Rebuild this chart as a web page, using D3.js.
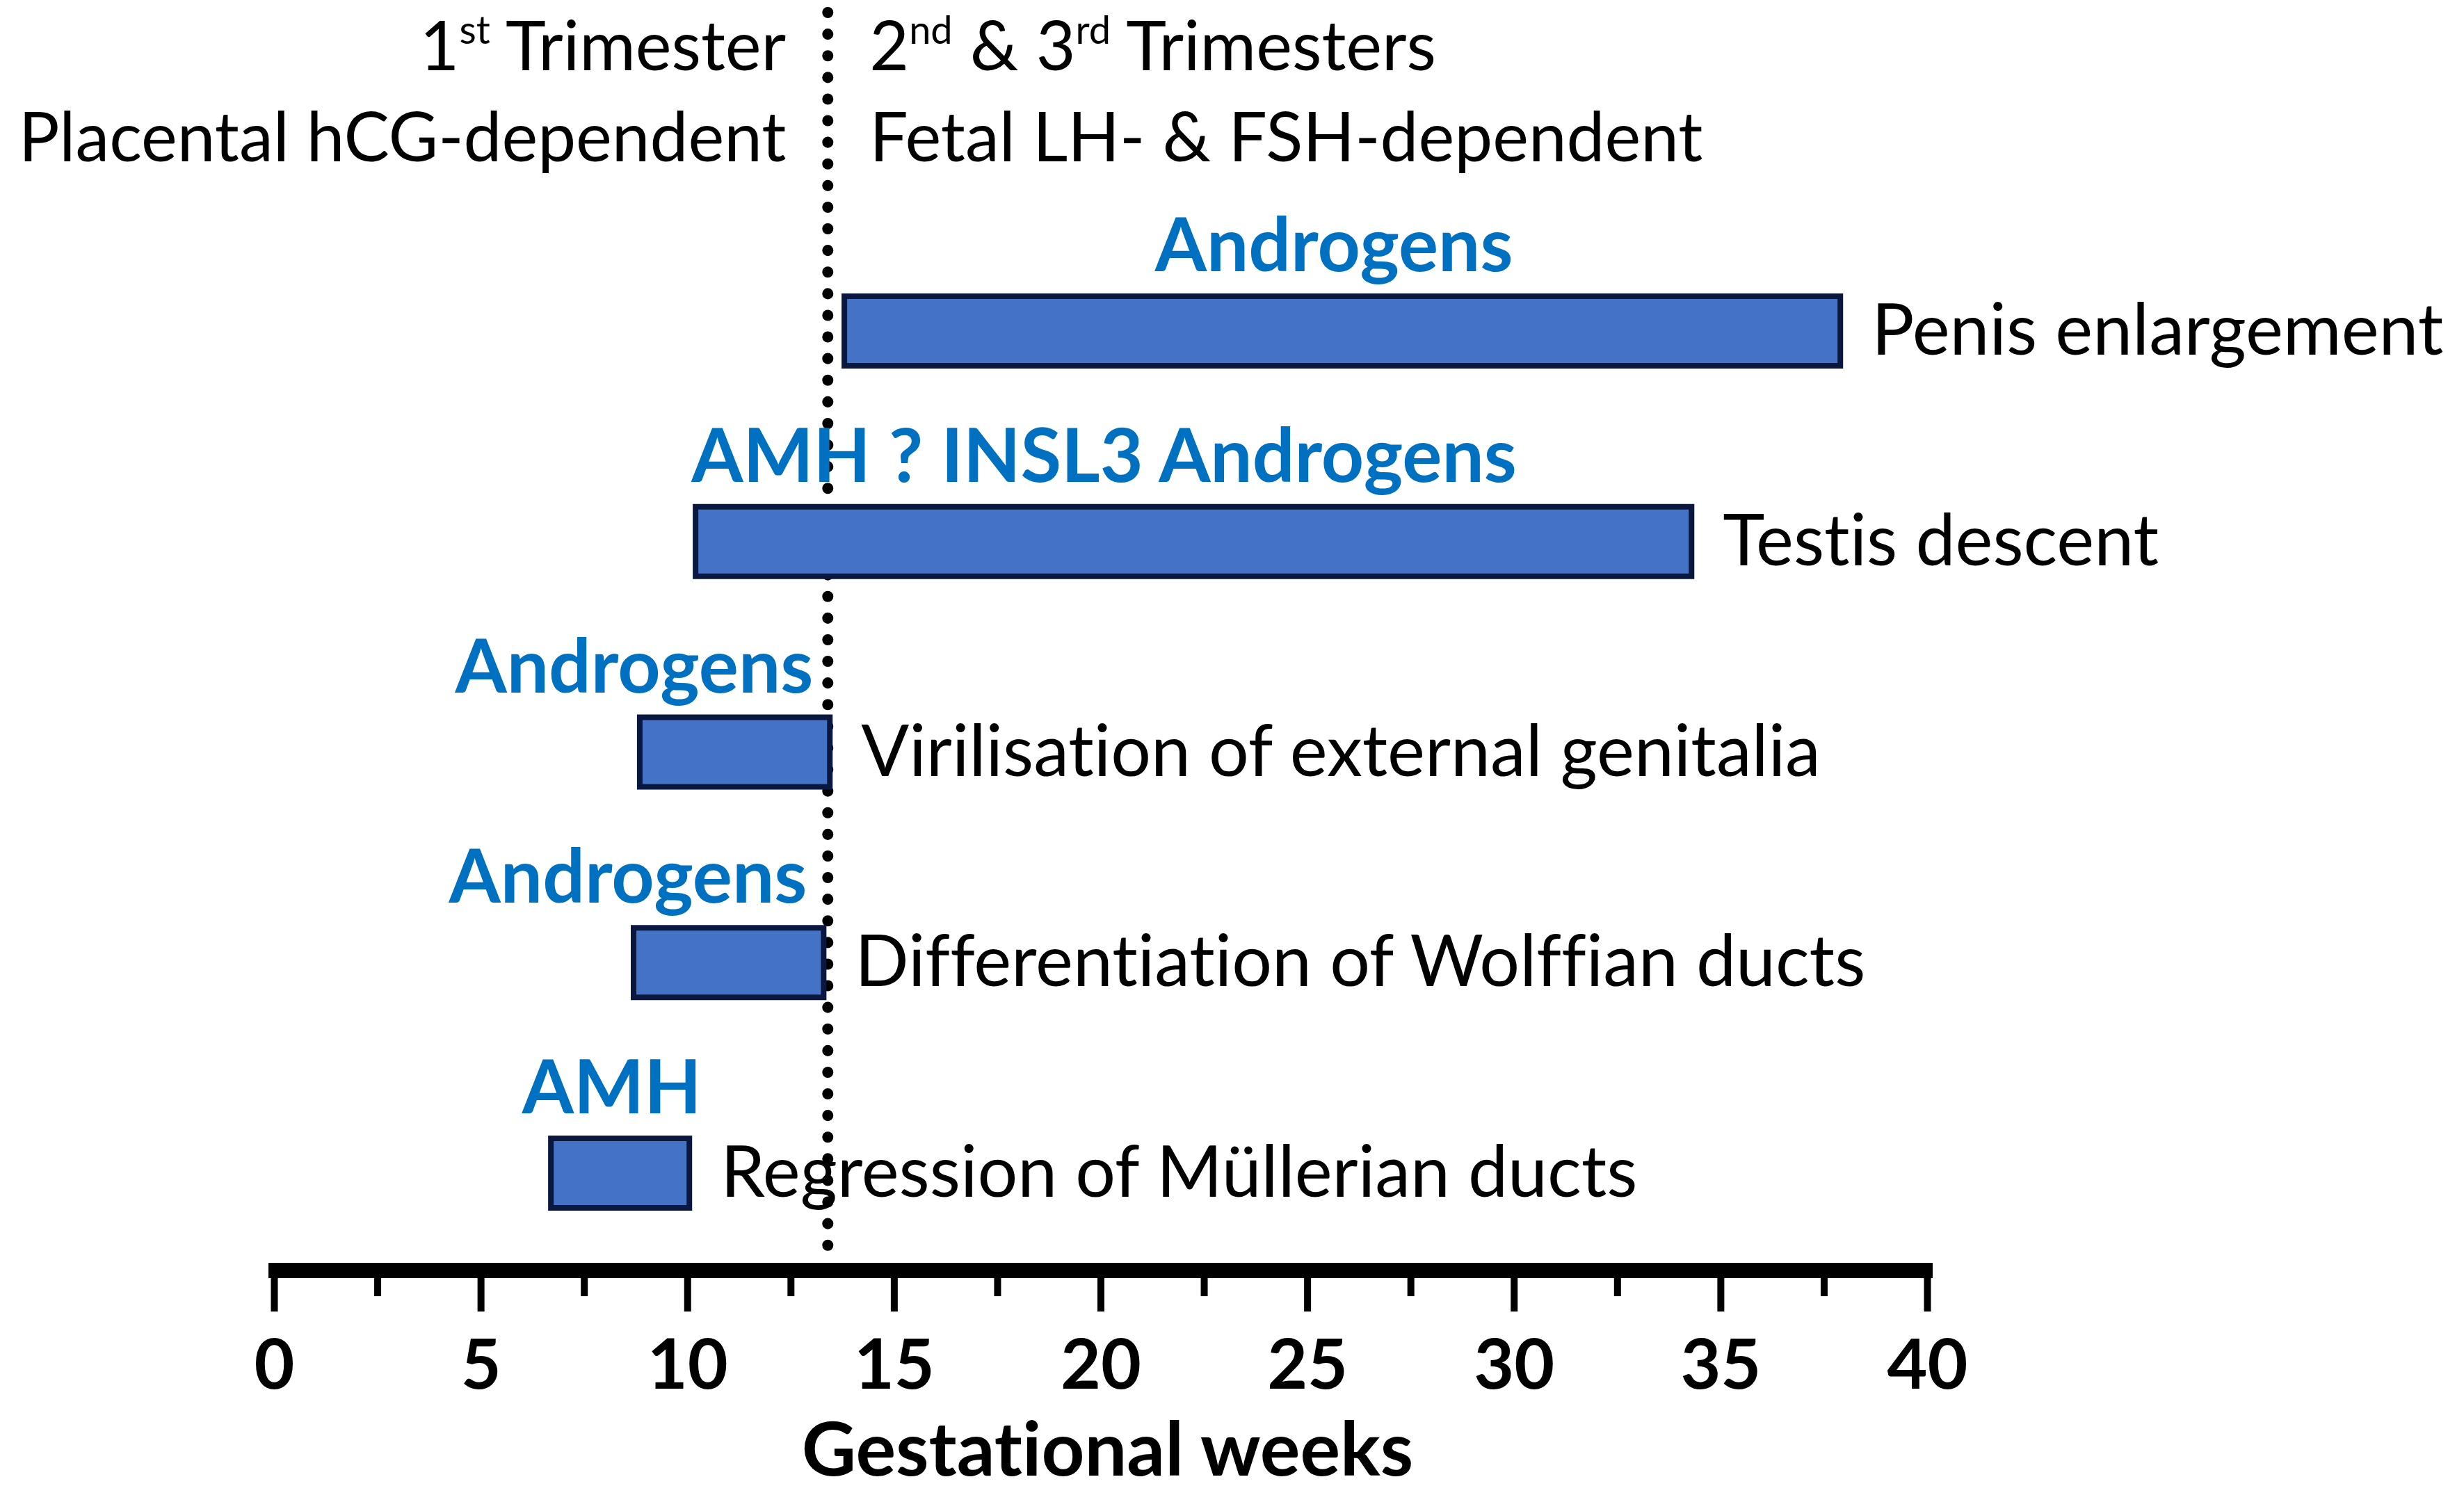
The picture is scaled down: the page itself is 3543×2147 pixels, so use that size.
<!DOCTYPE html>
<html>
<head>
<meta charset="utf-8">
<script src="https://cdn.jsdelivr.net/npm/d3@7"></script>
<style>
  body { margin: 0; background: #fff; }
  svg text { font-family: Lato, "Open Sans", sans-serif; font-variant-ligatures: none; }
</style>
</head>
<body>
<svg id="chart" width="3543" height="2147"></svg>
<script>
// processes, in order from top to bottom
var processes = ["Penis enlargement", "Testis descent", "Virilisation of external genitalia",
                 "Differentiation of Wolffian ducts", "Regression of Müllerian ducts"];
// gestational weeks where each process starts / ends
var startWeek = [13.8, 10.2, 8.85, 8.7, 6.7];
var endWeek   = [37.9, 34.3, 13.45, 13.3, 10.05];
// hormones driving each process
var hormones  = ["Androgens", "AMH ? INSL3 Androgens", "Androgens", "Androgens", "AMH"];
var hormoneAlign = ["middle", "start", "end", "end", "middle"];
// end of first trimester
var trimesterSplit = 13.4;
var majorTicks = [0, 5, 10, 15, 20, 25, 30, 35, 40];
var minorTicks = [2.5, 7.5, 12.5, 17.5, 22.5, 27.5, 32.5, 37.5];

var svg = d3.select("#chart");
var blue = "#0070c0";

var x = d3.scaleLinear().domain([0, 40]).range([394, 2771]);
var y = d3.scalePoint().domain(processes).range([476, 1687]);
var axisY = 1827;

var rows = processes.map(function(p, i) {
  return {name: p, start: startWeek[i], end: endWeek[i], hormone: hormones[i], align: hormoneAlign[i]};
});

// dotted trimester line
svg.append("line")
  .attr("x1", x(trimesterSplit)).attr("x2", x(trimesterSplit))
  .attr("y1", 18).attr("y2", axisY - 8)
  .attr("stroke", "#000").attr("stroke-width", 16)
  .attr("stroke-linecap", "round")
  .attr("stroke-dasharray", "0.1 31");

// header text either side of the line
var hdr = svg.append("g").attr("font-size", 98).attr("fill", "#000");
var t1 = hdr.append("text").attr("x", x(trimesterSplit) - 60).attr("y", 101).attr("text-anchor", "end");
t1.append("tspan").text("1");
t1.append("tspan").attr("font-size", 56).attr("dy", -38).text("st");
t1.append("tspan").attr("dy", 38).text(" Trimester");
hdr.append("text").attr("x", x(trimesterSplit) - 60).attr("y", 232).attr("text-anchor", "end")
  .text("Placental hCG-dependent");

var t2 = hdr.append("text").attr("x", x(trimesterSplit) + 60).attr("y", 101);
t2.append("tspan").text("2");
t2.append("tspan").attr("font-size", 56).attr("dy", -38).text("nd");
t2.append("tspan").attr("dy", 38).text(" & 3");
t2.append("tspan").attr("font-size", 56).attr("dy", -38).text("rd");
t2.append("tspan").attr("dy", 38).text(" Trimesters");
hdr.append("text").attr("x", x(trimesterSplit) + 60).attr("y", 232)
  .text("Fetal LH- & FSH-dependent");

// bars
var barH = 100;
svg.append("g").selectAll("rect")
  .data(rows).enter().append("rect")
    .attr("x", function(d) { return x(d.start); })
    .attr("y", function(d) { return y(d.name) - barH / 2; })
    .attr("width", function(d) { return x(d.end) - x(d.start); })
    .attr("height", barH)
    .attr("fill", "#4472c4")
    .attr("stroke", "#0a1840")
    .attr("stroke-width", 8);

// process names right of bars
svg.append("g").selectAll("text")
  .data(rows).enter().append("text")
    .attr("x", function(d) { return x(d.end) + 45; })
    .attr("y", function(d) { return y(d.name) + 34; })
    .attr("font-size", 102)
    .text(function(d) { return d.name; });

// hormone labels above bars
svg.append("g").selectAll("text")
  .data(rows).enter().append("text")
    .attr("x", function(d) {
      if (d.align === "middle") return (x(d.start) + x(d.end)) / 2 - 12;
      if (d.align === "start") return x(d.start) - 6;
      return x(d.end) - 24;
    })
    .attr("y", function(d) { return y(d.name) - 86; })
    .attr("text-anchor", function(d) { return d.align; })
    .attr("font-size", 107)
    .attr("font-weight", "bold")
    .attr("fill", blue)
    .text(function(d) { return d.hormone; });

// x axis
var axis = svg.append("g").attr("transform", "translate(0," + axisY + ")");
axis.call(d3.axisBottom(x).tickValues(majorTicks).tickSize(59).tickSizeOuter(0).tickPadding(40));
axis.select(".domain").attr("stroke-width", 22).attr("d", "M" + (x(0) - 8) + ",0H" + (x(40) + 8));
axis.selectAll(".tick line").attr("stroke-width", 10);
axis.selectAll(".tick text")
  .attr("font-size", 100).attr("font-weight", "bold").attr("fill", "#000")
  .attr("font-family", "Lato, sans-serif");

var minor = svg.append("g").attr("transform", "translate(0," + axisY + ")");
minor.call(d3.axisBottom(x).tickValues(minorTicks).tickSize(37).tickSizeOuter(0).tickFormat(""));
minor.select(".domain").remove();
minor.selectAll(".tick line").attr("stroke-width", 10);

svg.append("text")
  .attr("x", (x(0) + x(40)) / 2 + 10).attr("y", 2122)
  .attr("text-anchor", "middle")
  .attr("font-size", 108).attr("font-weight", "bold")
  .text("Gestational weeks");
</script>
</body>
</html>
